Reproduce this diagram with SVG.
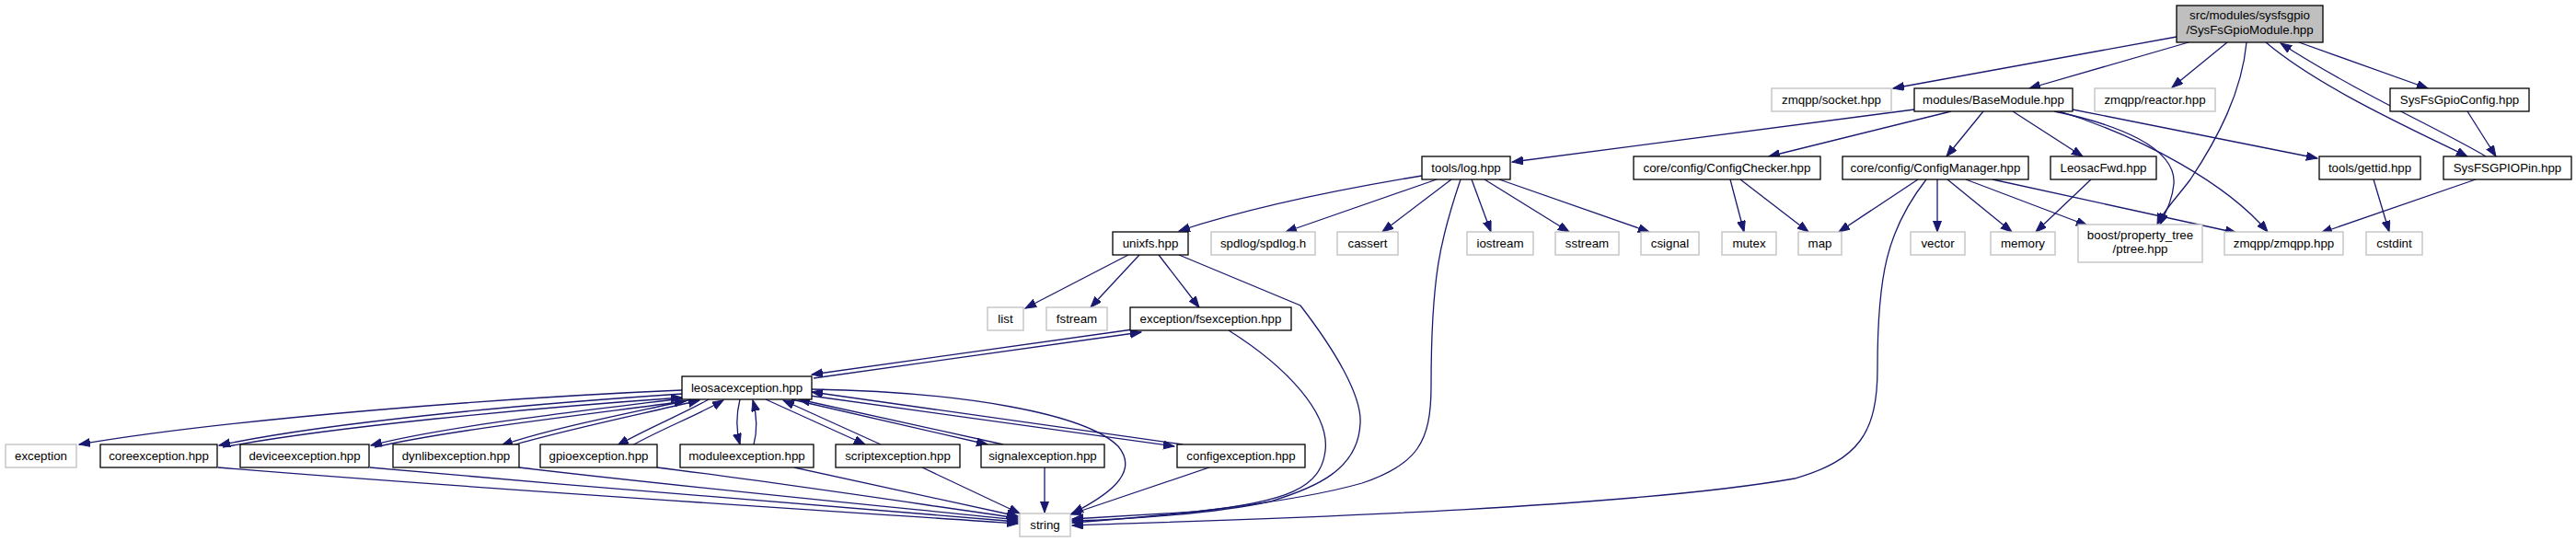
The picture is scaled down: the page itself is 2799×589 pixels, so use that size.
<svg xmlns="http://www.w3.org/2000/svg" width="2799" height="589" viewBox="0 0 2799 589">
<style>
.n rect{fill:#fff;stroke:#000;stroke-width:1.3}
.g rect{fill:#fff;stroke:#bfbfbf;stroke-width:1.3}
.m rect{fill:#bfbfbf;stroke:#000;stroke-width:1.3}
text{font-family:"Liberation Sans",Arial,Helvetica,sans-serif;font-size:13.3px;fill:#000;text-anchor:middle}
#edges path{fill:none;stroke:#191970;stroke-width:1.3;marker-end:url(#ah)}
</style>
<defs>
<marker id="ah" markerUnits="userSpaceOnUse" markerWidth="13" markerHeight="10" refX="12" refY="4.5" orient="auto">
<path d="M0,0 L12,4.5 L0,9 z" fill="#191970" stroke="#191970" stroke-width="1"/>
</marker>
</defs>
<rect width="2799" height="589" fill="#fff"/>
<g id="edges">
<path d="M2365,40 L2057,96"/>
<path d="M2378,46 L2205,96"/>
<path d="M2420,46 L2360,95"/>
<path d="M2441,46 C2436,100 2410,150 2380,195 C2365,215 2350,230 2344,244"/>
<path d="M2498,46 L2638,96"/>
<path d="M2462,46 C2520,95 2620,140 2681,170"/>
<path d="M2701,170 C2660,145 2560,100 2478,47"/>
<path d="M2080,119 L1643,176"/>
<path d="M2120,121 L1922,170"/>
<path d="M2155,121 L2115,170"/>
<path d="M2187,121 L2263,170"/>
<path d="M2232,121 C2300,135 2365,160 2362,200 C2360,220 2352,232 2347,244"/>
<path d="M2238,121 C2330,150 2420,200 2464,252"/>
<path d="M2252,119 L2518,172"/>
<path d="M2681,121 L2712,170"/>
<path d="M2690,195 L2522,253"/>
<path d="M2579,195 L2596,252"/>
<path d="M2272,195 L2212,252"/>
<path d="M1880,195 L1895,252"/>
<path d="M1891,195 L1965,252"/>
<path d="M2084,195 L1998,252"/>
<path d="M2105,195 L2105,252"/>
<path d="M2116,195 L2186,252"/>
<path d="M2136,195 L2268,245"/>
<path d="M2165,195 L2430,253"/>
<path d="M2093,195 C2050,250 2040,300 2040,400 C2040,470 2020,500 1950,520 C1750,555 1300,566 1165,571"/>
<path d="M1545,191 C1460,205 1360,225 1281,251"/>
<path d="M1561,195 L1397,252"/>
<path d="M1577,195 L1502,252"/>
<path d="M1599,195 L1620,252"/>
<path d="M1613,195 L1705,252"/>
<path d="M1629,195 L1792,252"/>
<path d="M1587,195 C1565,260 1555,300 1555,420 C1555,480 1540,505 1480,525 C1400,548 1250,562 1165,568"/>
<path d="M1226,277 L1114,335"/>
<path d="M1238,277 L1185,334"/>
<path d="M1259,277 L1303,334"/>
<path d="M1281,277 L1413,332 C1450,380 1480,430 1478,460 C1476,510 1430,530 1380,545 C1320,558 1230,564 1165,566"/>
<path d="M1335,359 C1400,400 1445,450 1440,490 C1435,530 1400,545 1300,556 L1165,564"/>
<path d="M884,411 L1240,361"/>
<path d="M1238,357 L882,407"/>
<path d="M741,424 C550,432 250,455 86,483"/>
<path d="M741,428 C560,440 350,460 238,484"/>
<path d="M242,486 C360,464 570,444 741,432"/>
<path d="M741,433 C620,448 480,464 403,484"/>
<path d="M407,486 C485,468 625,452 745,436"/>
<path d="M752,434 C680,450 600,465 545,484"/>
<path d="M550,486 C605,469 688,452 760,435"/>
<path d="M770,434 C742,450 702,466 671,484"/>
<path d="M687,484 C715,468 760,450 786,435"/>
<path d="M804,434 C800,450 800,468 804,483"/>
<path d="M819,483 C823,468 822,450 818,435"/>
<path d="M832,434 L940,483"/>
<path d="M957,483 L851,435"/>
<path d="M860,434 L1073,483"/>
<path d="M1090,483 L868,434"/>
<path d="M880,430 L1276,485"/>
<path d="M1285,483 L882,426"/>
<path d="M882,423 C1050,426 1180,450 1215,485 C1240,515 1200,540 1165,558"/>
<path d="M237,508 C500,530 900,555 1106,569"/>
<path d="M402,508 C650,530 950,555 1106,567"/>
<path d="M564,508 C750,530 980,552 1106,565"/>
<path d="M714,508 C850,525 1000,548 1106,563"/>
<path d="M863,508 L1106,561"/>
<path d="M1002,508 L1108,558"/>
<path d="M1135,508 L1135,557"/>
<path d="M1314,508 L1163,559"/>
</g>
<g id="main" class="m"><rect x="2365" y="6" width="159" height="40"/><text x="2444.5" y="21">src/modules/sysfsgpio</text><text x="2444.5" y="37">/SysFsGpioModule.hpp</text></g>
<g id="socket" class="g"><rect x="1925" y="96" width="130" height="25"/><text x="1990" y="113">zmqpp/socket.hpp</text></g>
<g id="basemodule" class="n"><rect x="2080" y="96" width="172" height="25"/><text x="2166" y="113">modules/BaseModule.hpp</text></g>
<g id="reactor" class="g"><rect x="2276" y="96" width="131" height="25"/><text x="2341.5" y="113">zmqpp/reactor.hpp</text></g>
<g id="sysfsgpioconfig" class="n"><rect x="2597" y="96" width="151" height="25"/><text x="2672.5" y="113">SysFsGpioConfig.hpp</text></g>
<g id="log" class="n"><rect x="1545" y="170" width="96" height="25"/><text x="1593" y="187">tools/log.hpp</text></g>
<g id="configchecker" class="n"><rect x="1775" y="170" width="203" height="25"/><text x="1876.5" y="187">core/config/ConfigChecker.hpp</text></g>
<g id="configmanager" class="n"><rect x="2002" y="170" width="202" height="25"/><text x="2103" y="187">core/config/ConfigManager.hpp</text></g>
<g id="leosacfwd" class="n"><rect x="2228" y="170" width="115" height="25"/><text x="2285.5" y="187">LeosacFwd.hpp</text></g>
<g id="gettid" class="n"><rect x="2520" y="170" width="110" height="25"/><text x="2575" y="187">tools/gettid.hpp</text></g>
<g id="sysfsgpiopin" class="n"><rect x="2655" y="170" width="139" height="25"/><text x="2724.5" y="187">SysFSGPIOPin.hpp</text></g>
<g id="unixfs" class="n"><rect x="1209" y="252" width="82" height="25"/><text x="1250" y="269">unixfs.hpp</text></g>
<g id="spdlog" class="g"><rect x="1316" y="252" width="113" height="25"/><text x="1372.5" y="269">spdlog/spdlog.h</text></g>
<g id="cassert" class="g"><rect x="1453" y="252" width="66" height="25"/><text x="1486" y="269">cassert</text></g>
<g id="iostream" class="g"><rect x="1594" y="252" width="72" height="25"/><text x="1630" y="269">iostream</text></g>
<g id="sstream" class="g"><rect x="1690" y="252" width="69" height="25"/><text x="1724.5" y="269">sstream</text></g>
<g id="csignal" class="g"><rect x="1783" y="252" width="63" height="25"/><text x="1814.5" y="269">csignal</text></g>
<g id="mutex" class="g"><rect x="1871" y="252" width="59" height="25"/><text x="1900.5" y="269">mutex</text></g>
<g id="map" class="g"><rect x="1954" y="252" width="47" height="25"/><text x="1977.5" y="269">map</text></g>
<g id="vector" class="g"><rect x="2076" y="252" width="59" height="25"/><text x="2105.5" y="269">vector</text></g>
<g id="memory" class="g"><rect x="2163" y="252" width="70" height="25"/><text x="2198" y="269">memory</text></g>
<g id="ptree" class="g"><rect x="2258" y="244" width="135" height="41"/><text x="2325.5" y="260">boost/property_tree</text><text x="2325.5" y="275">/ptree.hpp</text></g>
<g id="zmqpp" class="g"><rect x="2417" y="252" width="129" height="25"/><text x="2481.5" y="269">zmqpp/zmqpp.hpp</text></g>
<g id="cstdint" class="g"><rect x="2571" y="252" width="61" height="25"/><text x="2601.5" y="269">cstdint</text></g>
<g id="list" class="g"><rect x="1073" y="334" width="39" height="25"/><text x="1092.5" y="351">list</text></g>
<g id="fstream" class="g"><rect x="1137" y="334" width="66" height="25"/><text x="1170" y="351">fstream</text></g>
<g id="fsexception" class="n"><rect x="1228" y="334" width="175" height="25"/><text x="1315.5" y="351">exception/fsexception.hpp</text></g>
<g id="leosacexception" class="n"><rect x="741" y="409" width="141" height="25"/><text x="811.5" y="426">leosacexception.hpp</text></g>
<g id="exception" class="g"><rect x="6" y="483" width="77" height="25"/><text x="44.5" y="500">exception</text></g>
<g id="coreexception" class="n"><rect x="109" y="483" width="127" height="25"/><text x="172.5" y="500">coreexception.hpp</text></g>
<g id="deviceexception" class="n"><rect x="261" y="483" width="140" height="25"/><text x="331" y="500">deviceexception.hpp</text></g>
<g id="dynlibexception" class="n"><rect x="427" y="483" width="137" height="25"/><text x="495.5" y="500">dynlibexception.hpp</text></g>
<g id="gpioexception" class="n"><rect x="587" y="483" width="127" height="25"/><text x="650.5" y="500">gpioexception.hpp</text></g>
<g id="moduleexception" class="n"><rect x="739" y="483" width="145" height="25"/><text x="811.5" y="500">moduleexception.hpp</text></g>
<g id="scriptexception" class="n"><rect x="908" y="483" width="135" height="25"/><text x="975.5" y="500">scriptexception.hpp</text></g>
<g id="signalexception" class="n"><rect x="1066" y="483" width="134" height="25"/><text x="1133" y="500">signalexception.hpp</text></g>
<g id="configexception" class="n"><rect x="1279" y="483" width="139" height="25"/><text x="1348.5" y="500">configexception.hpp</text></g>
<g id="string" class="g"><rect x="1108" y="558" width="55" height="25"/><text x="1135.5" y="575">string</text></g>
</svg>
